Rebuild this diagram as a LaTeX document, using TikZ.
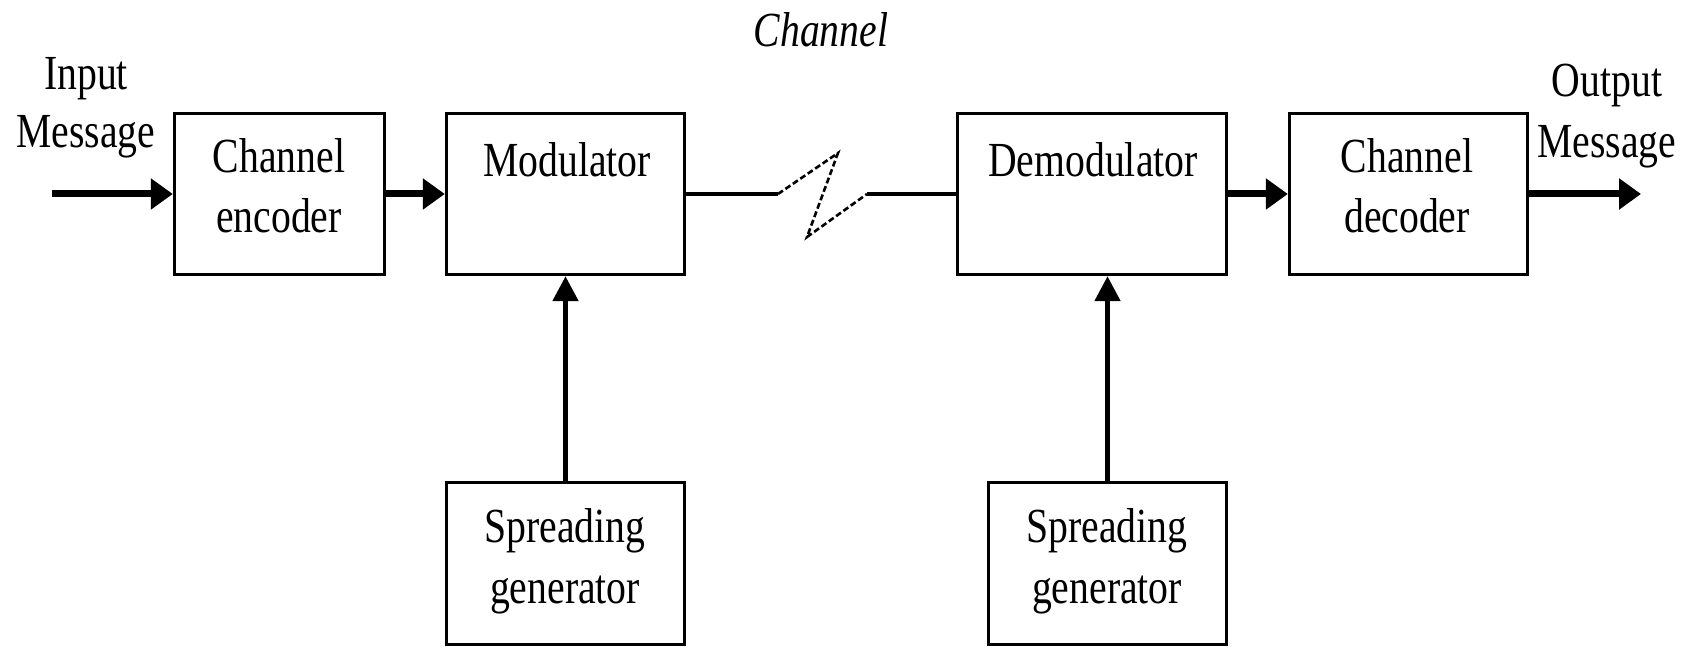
\documentclass[tikz,border=0pt]{standalone}
\usepackage{fontspec}
\setmainfont{Liberation Serif}[FakeStretch=0.81]
\usetikzlibrary{arrows.meta}

\tikzset{
  block/.style={draw, line width=3.4pt, inner sep=0pt},
  lbl/.style={anchor=base, align=center, inner sep=0pt, font=\fontsize{49}{59}\selectfont},
  flow/.style={line width=7pt, -{Triangle[length=22pt,width=30pt]}},
  feed/.style={line width=5pt, -{Triangle[length=25pt,width=25pt]}},
  link/.style={line width=3.6pt},
  radio/.style={line width=2.6pt, dash pattern=on 6pt off 3pt},
}

\begin{document}
\begin{tikzpicture}[x=1pt,y=-1pt]
  \useasboundingbox (0,0) rectangle (1696,647);

  % transmitter chain
  \node[block, minimum width=210pt, minimum height=161pt] (enc) at (279.5,194) {};
  \node[block, minimum width=238pt, minimum height=161pt] (mod) at (565.5,194) {};
  \node[block, minimum width=238pt, minimum height=162pt] (sp1) at (565.5,563.5) {};

  % receiver chain
  \node[block, minimum width=269pt, minimum height=161pt] (dem) at (1092,194) {};
  \node[block, minimum width=238pt, minimum height=161pt] (dec) at (1408.5,194) {};
  \node[block, minimum width=238pt, minimum height=162pt] (sp2) at (1107.5,563.5) {};

  % block texts (two-line texts are placed by the baseline of their last line)
  \node[lbl] (enc-t) at (279,232) {Channel\\encoder};
  \node[lbl] (mod-t) at (567,177) {Modulator};
  \node[lbl, font=\fontsize{49}{61}\selectfont] (sp1-t) at (565,603) {Spreading\\generator};
  \node[lbl] (dem-t) at (1093,177) {Demodulator};
  \node[lbl] (dec-t) at (1407,232) {Channel\\decoder};
  \node[lbl, font=\fontsize{49}{61}\selectfont] (sp2-t) at (1107,603) {Spreading\\generator};

  % outside labels
  \node[lbl, font=\fontsize{49}{58}\selectfont] (in-t) at (86,148) {Input\\Message};
  \node[lbl, font=\fontsize{49}{61}\selectfont] (out-t) at (1607,158) {Output\\Message};
  \node[lbl, font=\fontsize{49}{59}\selectfont\itshape] (ch-t) at (821,47) {Channel};

  % free ends and channel break points
  \coordinate (src) at (52,194);
  \coordinate (snk) at (1641,194);
  \coordinate (z1) at (778,194);
  \coordinate (z2) at (838,153);
  \coordinate (z3) at (807,237);
  \coordinate (z4) at (867,194);

  % signal flow
  \draw[flow] (src) -- (enc.west);
  \draw[flow] (enc.east) -- (mod.west);
  \draw[link] (mod.east) -- (z1);
  \draw[radio] (z1) -- (z2) -- (z3) -- (z4);
  \draw[link] (z4) -- (dem.west);
  \draw[flow] (dem.east) -- (dec.west);
  \draw[flow] (dec.east) -- (snk);

  % spreading code inputs
  \draw[feed] (sp1.north) -- (sp1.north |- mod.south);
  \draw[feed] (sp2.north) -- (sp2.north |- dem.south);
\end{tikzpicture}
\end{document}
